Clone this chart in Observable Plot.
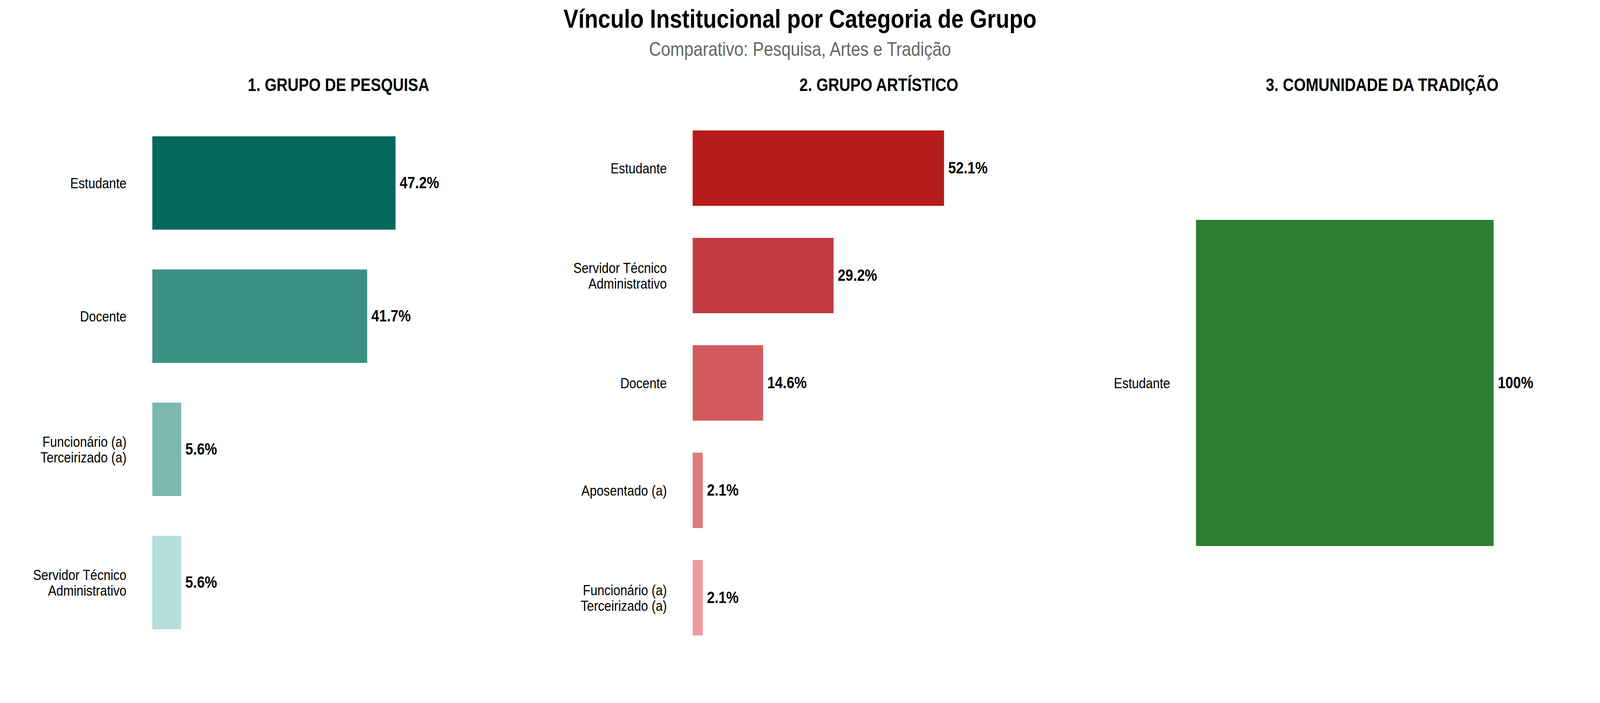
<!DOCTYPE html>
<html>
<head>
<meta charset="utf-8">
<script src="https://cdn.jsdelivr.net/npm/d3@7"></script>
<script src="https://cdn.jsdelivr.net/npm/@observablehq/plot@0.6"></script>
<style>
  html, body { margin: 0; padding: 0; background: #fff; overflow: hidden; width: 100vw; height: 100vh; }
  #chart { position: absolute; left: 0; top: 0; width: 4800px; height: 1800px; background: #fff; font-family: "Liberation Sans", Arial, sans-serif; color: #000; transform-origin: 0 0; }
  #header { position: relative; width: 4800px; height: 170px; }
  #title { position: absolute; left: 0; width: 4800px; top: 14.5px; text-align: center; font-weight: bold; font-size: 66.7px; line-height: 1; }
  #subtitle { position: absolute; left: 0; width: 4800px; top: 100.7px; text-align: center; font-size: 50px; line-height: 1; color: #666666; }
  #panels { display: flex; width: 4800px; height: 1630px; }
  #panels svg { display: block; flex: none; }
</style>
</head>
<body>
<div id="chart">
  <div id="header">
    <div id="title">Vínculo Institucional por Categoria de Grupo</div>
    <div id="subtitle">Comparativo: Pesquisa, Artes e Tradição</div>
  </div>
  <div id="panels"></div>
</div>
<script>
// ---- data ----
const panelTitles = ["1. GRUPO DE PESQUISA", "2. GRUPO ARTÍSTICO", "3. COMUNIDADE DA TRADIÇÃO"];

const pesquisaCategorias = ["Estudante", "Docente", "Funcionário (a)\nTerceirizado (a)", "Servidor Técnico\nAdministrativo"];
const pesquisaValores = [47.2, 41.7, 5.6, 5.6];

const artisticoCategorias = ["Estudante", "Servidor Técnico\nAdministrativo", "Docente", "Aposentado (a)", "Funcionário (a)\nTerceirizado (a)"];
const artisticoValores = [52.1, 29.2, 14.6, 2.1, 2.1];

const tradicaoCategorias = ["Estudante"];
const tradicaoValores = [100];

// ---- palettes ----
const pesquisaCores = ["#02695c", "#3c9086", "#7ab8b0", "#b3dedb"];
const artisticoCores = ["#b71c1c", "#c43b3f", "#d35a5c", "#e07a7b", "#ee9b9b"];
const tradicaoCores = ["#2e7d32"];

// ---- layout (design space 4800 x 1800) ----
const layouts = [
  { left: 457, right: 27, top: 127, bottom: 137 },
  { left: 478, right: 6, top: 121, bottom: 130 },
  { left: 388, right: 96, top: 214, bottom: 223 }
];

const fmt = v => (Number.isInteger(v) ? String(v) : v.toFixed(1)) + "%";

function panel(cats, vals, colors, title, m) {
  const data = cats.map((c, i) => ({ cat: c, val: vals[i] }));
  return Plot.plot({
    width: 1600,
    height: 1630,
    marginLeft: m.left,
    marginRight: m.right,
    marginTop: m.top,
    marginBottom: m.bottom,
    style: { fontFamily: '"Liberation Sans", Arial, sans-serif', background: "#fff", color: "#000", overflow: "visible", maxWidth: "none" },
    x: { domain: [0, d3.max(vals) + 25], axis: null },
    y: { domain: cats, paddingInner: 0.3, paddingOuter: 0.15, label: null },
    color: { domain: cats, range: colors },
    marks: [
      Plot.barX(data, { x: "val", y: "cat", fill: "cat" }),
      Plot.text(data, { x: "val", y: "cat", text: d => fmt(d.val), dx: 12, textAnchor: "start", fontWeight: "bold", fontSize: 41.7, fill: "#000" }),
      Plot.axisY({ tickSize: 0, tickPadding: 78, fontSize: 37.5, lineHeight: 1.07, fill: "#000", label: null }),
      Plot.text([title], { frameAnchor: "top", dy: 62 - m.top, lineAnchor: "bottom", fontWeight: "bold", fontSize: 45.8, fill: "#000" })
    ]
  });
}

const host = document.getElementById("panels");
host.append(panel(pesquisaCategorias, pesquisaValores, pesquisaCores, panelTitles[0], layouts[0]));
host.append(panel(artisticoCategorias, artisticoValores, artisticoCores, panelTitles[1], layouts[1]));
host.append(panel(tradicaoCategorias, tradicaoValores, tradicaoCores, panelTitles[2], layouts[2]));

// map the 4800x1800 design onto the actual viewport
const chart = document.getElementById("chart");
const sx = window.innerWidth / 4800;
const sy = window.innerHeight / 1800;
if (Math.abs(sx - 1) > 0.001 || Math.abs(sy - 1) > 0.001) {
  chart.style.transform = "scale(" + sx + "," + sy + ")";
}
</script>
</body>
</html>
